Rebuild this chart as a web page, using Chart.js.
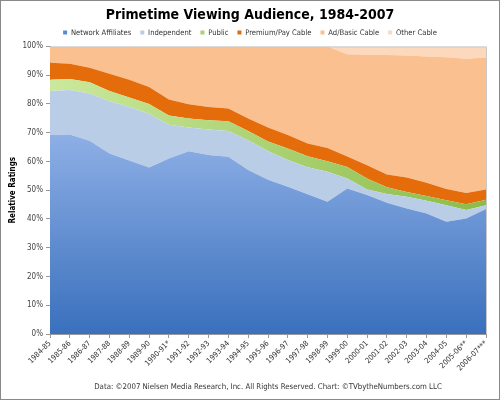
<!DOCTYPE html>
<html>
<head>
<meta charset="utf-8">
<script src="https://cdn.jsdelivr.net/npm/chart.js@4"></script>
<style>
  html, body { margin: 0; padding: 0; background: #fff; }
  #wrap { width: 500px; height: 400px; }
</style>
</head>
<body>
<div id="wrap"><canvas id="chart_viewing" width="500" height="400"></canvas></div>
<script>
var seasons = ['1984-85', '1985-86', '1986-87', '1987-88', '1988-89', '1989-90', '1990-91*', '1991-92',
	'1992-93', '1993-94', '1994-95', '1995-96', '1996-97', '1997-98', '1998-99', '1999-00', '2000-01',
	'2001-02', '2002-03', '2003-04', '2004-05', '2005-06**', '2006-07***'];

// shares of primetime audience, percent
var network_affiliates = [69.2, 69.4, 67.2, 62.8, 60.3, 57.9, 61.0, 63.5, 62.2, 61.6, 57.0, 53.6, 51.2, 48.6, 46.0, 50.6, 48.3, 45.6, 43.6, 41.9, 39.0, 40.2, 43.5];
var independent = [15.3, 15.4, 16.4, 18.1, 18.6, 18.7, 11.8, 8.3, 8.9, 9.0, 10.4, 10.0, 9.3, 9.4, 10.4, 3.5, 1.9, 3.1, 4.1, 4.4, 5.8, 2.9, 1.3];
var public_tv = [3.9, 3.9, 3.9, 3.6, 3.3, 3.4, 3.2, 3.1, 3.2, 3.4, 3.2, 3.3, 4.0, 3.8, 3.7, 4.0, 3.9, 2.3, 1.7, 1.7, 1.7, 2.0, 1.9];
var premium_cable = [5.9, 5.3, 5.1, 6.0, 6.2, 5.9, 5.5, 5.0, 4.6, 4.4, 4.3, 4.9, 4.7, 4.4, 4.6, 3.6, 4.6, 4.5, 5.0, 4.6, 3.9, 3.9, 3.5];
var basic_cable = [5.7, 6.0, 7.4, 9.5, 11.6, 14.1, 18.5, 20.1, 21.1, 21.6, 25.1, 28.2, 30.8, 33.8, 35.3, 35.6, 38.4, 41.5, 42.4, 43.9, 45.8, 46.7, 45.9];
var other_cable = [0, 0, 0, 0, 0, 0, 0, 0, 0, 0, 0, 0, 0, 0, 0, 2.7, 2.9, 3.0, 3.2, 3.5, 3.8, 4.3, 3.9];

var y_ticks = [0, 10, 20, 30, 40, 50, 60, 70, 80, 90, 100];

var colors = {
	network: '#5b8bd6',
	independent: '#b9cde6',
	public_tv: '#a9d36c',
	premium: '#e46c0a',
	basic: '#fac090',
	other: '#fcd9bd'
};

var font_family = '"DejaVu Sans Condensed", "DejaVu Sans", sans-serif';

function blue_fill(context) {
	var chart = context.chart;
	var area = chart.chartArea;
	if (!area) return colors.network;
	var g = chart.ctx.createLinearGradient(0, area.top, 0, area.bottom);
	g.addColorStop(0, '#b3cbf8');
	g.addColorStop(1, '#3a70bd');
	return g;
}

function green_fill(context) {
	var chart = context.chart;
	var area = chart.chartArea;
	if (!area) return colors.public_tv;
	var g = chart.ctx.createLinearGradient(area.left, 0, area.right, 0);
	g.addColorStop(0, '#cbe99c');
	g.addColorStop(1, '#8cbb4a');
	return g;
}

function layer(label, data, bg, fill) {
	return {
		label: label,
		data: data,
		backgroundColor: bg,
		borderColor: 'rgba(0,0,0,0)',
		borderWidth: 0,
		pointRadius: 0,
		pointHoverRadius: 0,
		tension: 0,
		fill: fill
	};
}

var frame = {
	id: 'frame',
	afterDraw: function(chart) {
		var c = chart.ctx;
		var a = chart.chartArea;
		c.save();
		c.strokeStyle = '#c8c8c8';
		c.lineWidth = 1;
		c.beginPath();
		c.moveTo(a.left, a.top + 0.5);
		c.lineTo(a.right + 0.5, a.top + 0.5);
		c.lineTo(a.right + 0.5, a.bottom);
		c.stroke();
		c.strokeStyle = '#8a8a8a';
		c.strokeRect(0.5, 0.5, 499, 399);
		c.restore();
	}
};

var ctx = document.getElementById('chart_viewing').getContext('2d');
var chart = new Chart(ctx, {
	type: 'line',
	data: {
		labels: seasons,
		datasets: [
			layer('Network Affiliates', network_affiliates, blue_fill, 'origin'),
			layer('Independent', independent, colors.independent, '-1'),
			layer('Public', public_tv, green_fill, '-1'),
			layer('Premium/Pay Cable', premium_cable, colors.premium, '-1'),
			layer('Ad/Basic Cable', basic_cable, colors.basic, '-1'),
			layer('Other Cable', other_cable, colors.other, '-1')
		]
	},
	plugins: [frame],
	options: {
		responsive: false,
		animation: false,
		layout: { padding: { left: 7, right: 7, top: 0, bottom: 4 } },
		plugins: {
			title: {
				display: true,
				text: 'Primetime Viewing Audience, 1984-2007',
				color: '#000',
				font: { family: font_family, size: 14, weight: 'bold' },
				padding: { top: 7, bottom: -4 }
			},
			legend: {
				display: true,
				labels: {
					boxWidth: 4,
					boxHeight: 4,
					padding: 9,
					color: '#333',
					font: { family: font_family, size: 7.6 },
					generateLabels: function(chart) {
						var fills = [colors.network, colors.independent, colors.public_tv, colors.premium, colors.basic, colors.other];
						var items = Chart.defaults.plugins.legend.labels.generateLabels(chart);
						items.forEach(function(it, i) {
							it.fillStyle = fills[i];
							it.strokeStyle = fills[i];
							it.lineWidth = 0;
						});
						return items;
					}
				}
			},
			tooltip: { enabled: false }
		},
		scales: {
			x: {
				offset: false,
				grid: { display: true, drawOnChartArea: false, tickLength: 4, color: '#999' },
				border: { color: '#999' },
				ticks: {
					autoSkip: false,
					maxRotation: 45,
					minRotation: 45,
					padding: 1,
					color: '#333',
					font: { family: font_family, size: 7.6 }
				},
				title: {
					display: true,
					text: 'Data: \u00a92007 Nielsen Media Research, Inc. All Rights Reserved. Chart: \u00a9TVbytheNumbers.com LLC',
					color: '#333',
					font: { family: font_family, size: 7.8 },
					padding: { top: 0, bottom: 4 }
				},
				afterFit: function(scale) { scale.height = 62; }
			},
			y: {
				stacked: true,
				min: 0,
				max: 100,
				afterBuildTicks: function(scale) {
					scale.ticks = y_ticks.map(function(v) { return { value: v }; });
				},
				grid: { display: true, drawOnChartArea: false, tickLength: 4, color: '#999' },
				border: { color: '#999' },
				ticks: {
					color: '#444',
					padding: 3,
					font: { family: font_family, size: 8 },
					callback: function(v) { return v + '%'; }
				},
				title: {
					display: true,
					text: 'Relative Ratings',
					color: '#000',
					font: { family: font_family, size: 8, weight: 'bold' },
					padding: { top: 1, bottom: 0 }
				},
				afterFit: function(scale) { scale.width = 43; }
			},
			// empty spacer on the right so the plot ends where the original does
			spacer: {
				type: 'linear',
				position: 'right',
				display: true,
				grid: { display: false },
				border: { display: false },
				ticks: { display: false },
				afterFit: function(scale) { scale.width = 7; }
			}
		}
	}
});
</script>
</body>
</html>
